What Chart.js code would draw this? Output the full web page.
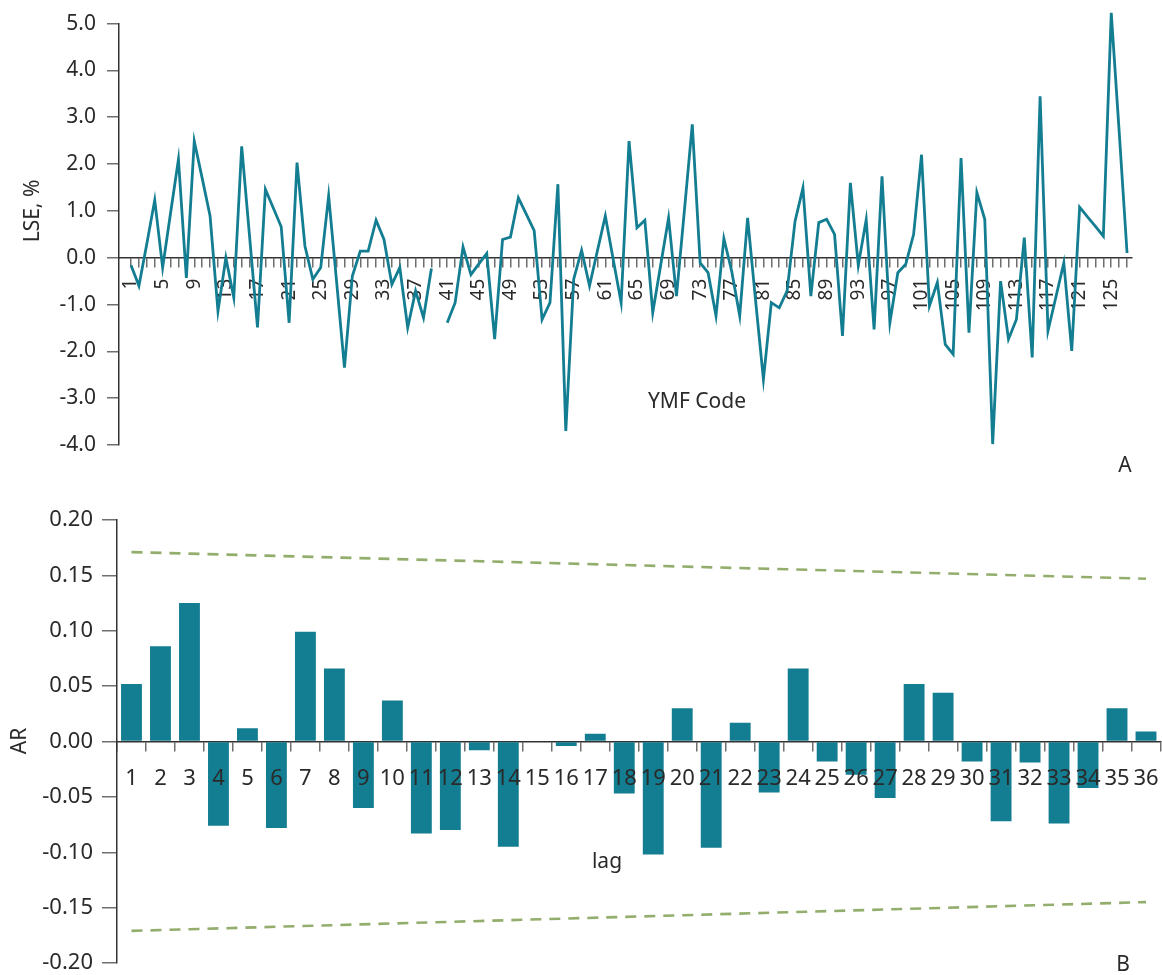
<!DOCTYPE html>
<html>
<head>
<meta charset="utf-8">
<script src="https://cdn.jsdelivr.net/npm/chart.js@4/dist/chart.umd.min.js"></script>
<style>
    body { margin: 0; background: #fff; overflow: hidden; }
    #top-box { position: absolute; left: 0; top: 0; width: 1162px; height: 490px; }
    #bottom-box { position: absolute; left: 0; top: 490px; width: 1162px; height: 500px; }
</style>
</head>
<body>
<div id="top-box"><canvas id="lse-chart"></canvas></div>
<div id="bottom-box"><canvas id="ar-chart"></canvas></div>
<script>
'use strict';

// Panel A: LSE (%) per YMF code. Code 40 has no value (gap in the line):
var ymfCodes = Array.from({ length: 127 }, function (v, i) { return i + 1; });
var ymfTickLabels = [1, 5, 9, 13, 17, 21, 25, 29, 33, 37, 41, 45, 49, 53, 57, 61, 65, 69, 73, 77, 81, 85, 89, 93, 97, 101, 105, 109, 113, 117, 121, 125];
var lseValues = [
    -0.16, -0.60, 0.30, 1.23, -0.21, 0.95, 2.10, -0.43, 2.49, 1.70,
    0.89, -1.14, 0.00, -0.85, 2.38, 0.45, -1.49, 1.46, 1.06, 0.66,
    -1.39, 2.03, 0.25, -0.46, -0.21, 1.32, -0.50, -2.35, -0.39, 0.14,
    0.14, 0.80, 0.39, -0.57, -0.21, -1.49, -0.71, -1.28, -0.23, null,
    -1.39, -0.96, 0.23, -0.36, -0.13, 0.09, -1.74, 0.39, 0.44, 1.28,
    0.93, 0.58, -1.32, -0.96, 1.57, -3.70, -0.46, 0.16, -0.60, 0.15,
    0.89, -0.04, -0.96, 2.49, 0.64, 0.80, -1.17, -0.16, 0.85, -0.82,
    1.00, 2.85, -0.11, -0.32, -1.24, 0.41, -0.30, -1.24, 0.85, -0.90,
    -2.60, -0.96, -1.07, -0.71, 0.78, 1.49, -0.82, 0.75, 0.82, 0.50,
    -1.67, 1.60, -0.16, 0.81, -1.53, 1.74, -1.39, -0.32, -0.14, 0.50,
    2.20, -1.03, -0.53, -1.85, -2.06, 2.13, -1.60, 1.39, 0.82, -3.98,
    -0.50, -1.74, -1.32, 0.43, -2.13, 3.45, -1.56, -0.84, -0.11, -1.99,
    1.08, 0.87, 0.67, 0.46, 5.23, 2.70, 0.10
];

// Panel B: autocorrelation (AR) per lag, with the dashed confidence bounds
// (read at the first and last lag only):
var lags = ['1', '2', '3', '4', '5', '6', '7', '8', '9', '10', '11', '12', '13', '14', '15', '16', '17', '18',
    '19', '20', '21', '22', '23', '24', '25', '26', '27', '28', '29', '30', '31', '32', '33', '34', '35', '36'];
var arValues = [
    0.052, 0.086, 0.125, -0.076, 0.012, -0.078, 0.099, 0.066, -0.060, 0.037,
    -0.083, -0.080, -0.008, -0.095, 0.000, -0.004, 0.007, -0.047, -0.102, 0.030,
    -0.096, 0.017, -0.046, 0.066, -0.018, -0.030, -0.051, 0.052, 0.044, -0.018,
    -0.072, -0.019, -0.074, -0.042, 0.030, 0.009
];
var upperBound = [0.171].concat(new Array(34).fill(null), [0.147]);
var lowerBound = [-0.171].concat(new Array(34).fill(null), [-0.145]);

var TEAL = '#137d92';
var GREEN = '#93ae6c';
var AXIS = '#333333';
var TICK = '#6f6f6f';
var TEXT = '#2a2a2a';

Chart.defaults.font.family = "'Noto Sans', sans-serif";
Chart.defaults.font.size = 21;
Chart.defaults.color = TEXT;

// Helper: tick label without a "-0" artefact:
var fmt = function fmt(v, digits) {
    if (Math.abs(v) < 1e-9) v = 0;
    return v.toFixed(digits);
};

// Small plugin that writes free text (axis titles, panel letters):
var freeText = {
    id: 'freeText',
    afterDraw: function (chart, args, opts) {
        var ctx = chart.ctx;
        (opts.items || []).forEach(function (item) {
            ctx.save();
            ctx.font = (item.size || 21) + "px 'Noto Sans', sans-serif";
            ctx.fillStyle = TEXT;
            ctx.textAlign = 'center';
            ctx.textBaseline = 'middle';
            ctx.translate(item.x, item.y);
            if (item.rotate) ctx.rotate(item.rotate);
            ctx.fillText(item.text, 0, 0);
            ctx.restore();
        });
    }
};

// Panel A:
new Chart(document.getElementById('lse-chart').getContext('2d'), {
    type: 'line',
    data: {
        datasets: [{
            data: ymfCodes.map(function (c, i) { return { x: c, y: lseValues[i] }; }),
            borderColor: TEAL,
            borderWidth: 2.8,
            pointRadius: 0,
            tension: 0,
            spanGaps: false,
            clip: false
        }]
    },
    plugins: [freeText],
    options: {
        responsive: true,
        maintainAspectRatio: false,
        animation: false,
        layout: { padding: { left: 0, right: 30, top: 22, bottom: 45 } },
        plugins: {
            legend: { display: false },
            tooltip: { enabled: false },
            freeText: {
                items: [
                    { text: 'LSE, %', x: 33, y: 211, rotate: -Math.PI / 2 },
                    { text: 'YMF Code', x: 697, y: 402 },
                    { text: 'A', x: 1125, y: 466 }
                ]
            }
        },
        scales: {
            x: {
                type: 'linear',
                position: { y: 0 },
                min: -0.52,
                max: 127.6,
                afterBuildTicks: function (scale) {
                    scale.ticks = ymfCodes.map(function (c) { return { value: c }; });
                },
                ticks: {
                    autoSkip: false,
                    minRotation: 90,
                    maxRotation: 90,
                    padding: 12,
                    font: { size: 19 },
                    callback: function (v) {
                        return ymfTickLabels.indexOf(v) >= 0 ? String(v) : '';
                    }
                },
                grid: { drawOnChartArea: false, tickLength: 9, color: TICK, lineWidth: 1.5 },
                border: { color: AXIS, width: 1.5 }
            },
            y: {
                min: -4,
                max: 5,
                afterFit: function (scale) { scale.width = 119; },
                ticks: {
                    stepSize: 1,
                    padding: 11,
                    callback: function (v) { return fmt(v, 1); }
                },
                grid: { drawOnChartArea: false, tickLength: 12, color: TICK, lineWidth: 1.5 },
                border: { color: AXIS, width: 1.5 }
            }
        }
    }
});

// Panel B:
new Chart(document.getElementById('ar-chart').getContext('2d'), {
    type: 'bar',
    data: {
        labels: lags,
        datasets: [{
            type: 'line',
            data: upperBound,
            borderColor: GREEN,
            borderWidth: 2.6,
            borderDash: [11, 8],
            pointRadius: 0,
            spanGaps: true
        }, {
            type: 'line',
            data: lowerBound,
            borderColor: GREEN,
            borderWidth: 2.6,
            borderDash: [11, 8],
            pointRadius: 0,
            spanGaps: true
        }, {
            data: arValues,
            backgroundColor: TEAL,
            barPercentage: 0.8,
            categoryPercentage: 0.9
        }]
    },
    plugins: [freeText],
    options: {
        responsive: true,
        maintainAspectRatio: false,
        animation: false,
        layout: { padding: { left: 0, right: 1.5, top: 30, bottom: 27 } },
        plugins: {
            legend: { display: false },
            tooltip: { enabled: false },
            freeText: {
                items: [
                    { text: 'AR', x: 20, y: 251, rotate: -Math.PI / 2 },
                    { text: 'lag', x: 607, y: 372 },
                    { text: 'B', x: 1123, y: 475 }
                ]
            }
        },
        scales: {
            x: {
                position: { y: 0 },
                offset: true,
                // labels sit inside the category offsets, so no extra side padding:
                afterFit: function (scale) {
                    scale.paddingLeft = 0;
                    scale.paddingRight = 0;
                },
                ticks: { autoSkip: false, maxRotation: 0, padding: 15, z: 1, font: { size: 22 } },
                grid: { drawOnChartArea: false, offset: true, tickLength: 9, color: TICK, lineWidth: 1.5 },
                border: { color: AXIS, width: 1.5 }
            },
            y: {
                min: -0.2,
                max: 0.2,
                afterFit: function (scale) { scale.width = 117; },
                ticks: {
                    stepSize: 0.05,
                    padding: 9,
                    font: { size: 22 },
                    callback: function (v) { return fmt(v, 2); }
                },
                grid: { drawOnChartArea: false, tickLength: 15, color: TICK, lineWidth: 1.5 },
                border: { color: AXIS, width: 1.5 }
            }
        }
    }
});
</script>
</body>
</html>
